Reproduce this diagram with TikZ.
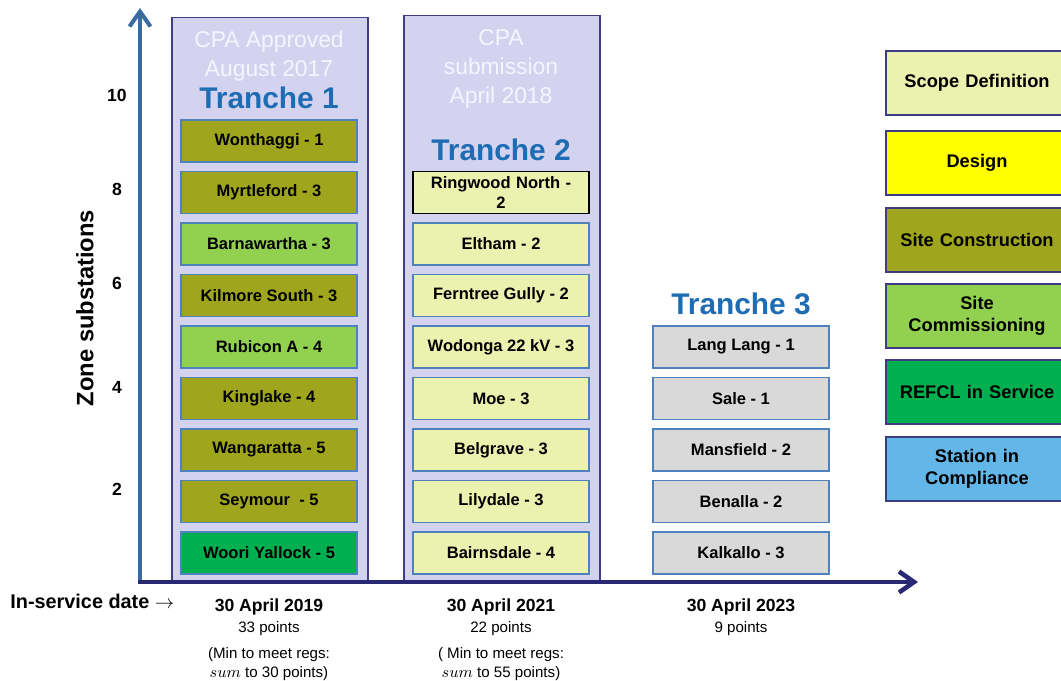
\documentclass[tikz,border=0pt]{standalone}
\usepackage{fontspec}
\setmainfont{Liberation Sans}
\usetikzlibrary{arrows.meta}
\definecolor{lav}{RGB}{211,211,240}
\definecolor{panelline}{RGB}{62,62,135}
\definecolor{boxline}{RGB}{79,129,189}
\definecolor{legline}{RGB}{60,60,130}
\definecolor{cscope}{RGB}{235,241,174}
\definecolor{cdesign}{RGB}{255,255,0}
\definecolor{cconstr}{RGB}{159,165,29}
\definecolor{ccommis}{RGB}{146,208,80}
\definecolor{cserv}{RGB}{0,176,80}
\definecolor{ccompl}{RGB}{99,183,232}
\definecolor{clater}{RGB}{217,217,217}
\definecolor{trblue}{RGB}{30,108,180}
\definecolor{yaxis}{RGB}{58,107,160}
\definecolor{xaxis}{RGB}{40,40,115}
\tikzset{
	panel/.style = {rectangle, minimum width = 3.92cm, anchor = south west, inner sep = 0pt, draw = panelline, fill = lav, line width = 0.9pt},
	box/.style = {rectangle, minimum width = 3.52cm, minimum height = 0.84cm, inner sep = 0pt, text centered, draw = boxline, line width = 0.8pt, font = \fontsize{9.4}{11.3}\selectfont\bfseries},
	scope/.style = {box, fill = cscope},
	constr/.style = {box, fill = cconstr},
	commis/.style = {box, fill = ccommis},
	inserv/.style = {box, fill = cserv},
	later/.style = {box, fill = clater},
	legend/.style = {rectangle, minimum width = 3.64cm, minimum height = 1.28cm, text width = 3.4cm, align = center, draw = legline, line width = 0.8pt, font = \fontsize{10.4}{12.6}\selectfont\bfseries},
	tranche/.style = {inner sep = 0pt, text = trblue, font = \fontsize{17}{20}\selectfont\bfseries},
	cpa/.style = {inner sep = 0pt, align = center, text = white!96!blue, font = \fontsize{13}{16.4}\selectfont},
	tick/.style = {inner sep = 0pt, font = \fontsize{10}{12}\selectfont\bfseries},
	date/.style = {inner sep = 0pt, font = \fontsize{10}{12}\selectfont\bfseries},
	pts/.style = {inner sep = 0pt, anchor = north, align = center, font = \fontsize{8.6}{10.8}\selectfont},
	axis/.style = {-{Straight Barb[length = 0.3cm, width = 0.42cm]}, line width = 2.3pt}
}
\begin{document}
\begin{tikzpicture}[x = 0.02cm, y = -0.02cm, node distance = 1.03cm]
	\useasboundingbox (0,0) rectangle (1061,680);
	
	%% panels
	\node (t1) [panel, minimum height = 11.28cm] at (171,582) {};
	\node (t2) [panel, minimum height = 11.32cm] at (403,582) {};
	
	\node (cpa1) [cpa] at (269,56) {CPA Approved\\August 2017};
	\node (cpa2) [cpa] at (501,69) {CPA\\submission\\April 2018};
	\node (tr1) [tranche] at (269,98) {Tranche 1};
	\node (tr2) [tranche] at (501,150) {Tranche 2};
	\node (tr3) [tranche] at (741,304) {Tranche 3};
	
	%% tranche 1
	\node (wonthaggi) [constr] at (269,141) {Wonthaggi - 1};
	\node (myrtleford) [constr, below of = wonthaggi] {Myrtleford - 3};
	\node (barnawartha) [commis, below of = myrtleford] {Barnawartha - 3};
	\node (kilmore) [constr, below of = barnawartha] {Kilmore South - 3};
	\node (rubicon) [commis, below of = kilmore] {Rubicon A - 4};
	\node (kinglake) [constr, below of = rubicon] {Kinglake - 4};
	\node (wangaratta) [constr, below of = kinglake] {Wangaratta - 5};
	\node (seymour) [constr, below of = wangaratta] {Seymour~ - 5};
	\node (woori) [inserv, below of = seymour] {Woori Yallock - 5};
	
	%% tranche 2
	\node (ringwood) [scope, draw = black, text width = 3.3cm, align = center] at (501,192.5) {Ringwood North -\\2};
	\node (eltham) [scope, below of = ringwood] {Eltham - 2};
	\node (ferntree) [scope, below of = eltham] {Ferntree Gully - 2};
	\node (wodonga) [scope, below of = ferntree] {Wodonga 22 kV - 3};
	\node (moe) [scope, below of = wodonga] {Moe - 3};
	\node (belgrave) [scope, below of = moe] {Belgrave - 3};
	\node (lilydale) [scope, below of = belgrave] {Lilydale - 3};
	\node (bairnsdale) [scope, below of = lilydale] {Bairnsdale - 4};
	
	%% tranche 3
	\node (langlang) [later] at (741,347) {Lang Lang - 1};
	\node (sale) [later, below of = langlang] {Sale - 1};
	\node (mansfield) [later, below of = sale] {Mansfield - 2};
	\node (benalla) [later, below of = mansfield] {Benalla - 2};
	\node (kalkallo) [later, below of = benalla] {Kalkallo - 3};
	
	%% legend
	\node (lscope) [legend, fill = cscope] at (977,83) {Scope Definition};
	\node (ldesign) [legend, fill = cdesign] at (977,163) {Design};
	\node (lconstr) [legend, fill = cconstr] at (977,240) {Site Construction};
	\node (lcommis) [legend, fill = ccommis] at (977,316) {Site\\Commissioning};
	\node (lserv) [legend, fill = cserv] at (977,392) {REFCL in Service};
	\node (lcompl) [legend, fill = ccompl] at (977,469) {Station in\\Compliance};
	
	%% axes
	\coordinate (origin) at (140,582);
	\coordinate (ytop) at (140,8);
	\coordinate (xstart) at (138,582);
	\coordinate (xend) at (918,582);
	\draw [axis, draw = yaxis] (origin) -- (ytop);
	\draw [axis, draw = xaxis, line width = 2.6pt] (xstart) -- (xend);
	
	\node (y10) [tick] at (117,95) {10};
	\node (y8) [tick] at (117,189) {8};
	\node (y6) [tick] at (117,283) {6};
	\node (y4) [tick] at (117,387) {4};
	\node (y2) [tick] at (117,489) {2};
	\node (ylabel) [rotate = 90, inner sep = 0pt, font = \fontsize{13.5}{16}\selectfont\bfseries] at (85,308) {Zone substations};
	\node (xlabel) [anchor = west, inner sep = 0pt, font = \fontsize{11.3}{13}\selectfont\bfseries] at (10,601) {In-service date $\rightarrow$};
	
	%% dates
	\node (d2019) [date] at (269,607) {30 April 2019};
	\node (d2021) [date] at (501,607) {30 April 2021};
	\node (d2023) [date] at (741,607) {30 April 2023};
	\node (p2019) [pts] at (269,621) {33 points\\[4pt](Min to meet regs:\\$sum$ to 30 points)};
	\node (p2021) [pts] at (501,621) {22 points\\[4pt]( Min to meet regs:\\$sum$ to 55 points)};
	\node (p2023) [pts] at (741,621) {9 points};
\end{tikzpicture}
\end{document}
